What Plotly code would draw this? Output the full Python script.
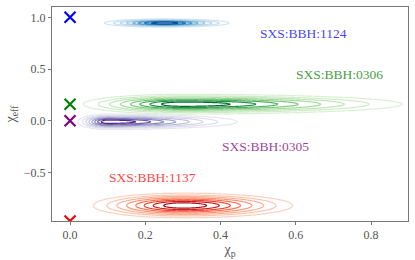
import numpy as np
import plotly.graph_objects as go
from plotly.colors import sequential, sample_colorscale

# Source labels and NR injection values (chi_p, chi_eff)
names = ["SXS:BBH:1124", "SXS:BBH:0306", "SXS:BBH:0305", "SXS:BBH:1137"]
inj_chip = [0.0, 0.0, 0.0, 0.0]
inj_chieff = [1.0, 0.16, 0.0, -0.97]
colors = ["rgb(0,0,255)", "rgb(0,128,0)", "rgb(128,0,128)", "rgb(255,0,0)"]
cmaps = [sequential.Blues, sequential.Greens, sequential.Purples, sequential.Reds]

# Posterior shape parameters
post_chip = [0.25, 0.30, 0.10, 0.30]
post_chieff = [0.945, 0.16, -0.01, -0.82]
sig_chip_left = [0.06, 0.10, 0.03, 0.09]
sig_chip_right = [0.065, 0.22, 0.13, 0.11]
sig_chieff = [0.015, 0.036, 0.028, 0.045]

# Label positions
lab_x = [0.62, 0.717, 0.52, 0.22]
lab_y = [0.845, 0.445, -0.25, -0.55]

levels = [0.03, 0.08, 0.15, 0.25, 0.38, 0.52, 0.68, 0.85]

fig = go.Figure()
xg = np.linspace(-0.05, 0.95, 240)
for i in range(4):
    yg = np.linspace(post_chieff[i] - 5 * sig_chieff[i], post_chieff[i] + 5 * sig_chieff[i], 140)
    X, Y = np.meshgrid(xg, yg)
    sx = np.where(X < post_chip[i], sig_chip_left[i], sig_chip_right[i])
    Z = np.exp(-0.5 * ((X - post_chip[i]) / sx) ** 2 - 0.5 * ((Y - post_chieff[i]) / sig_chieff[i]) ** 2)
    for lv in levels:
        c = sample_colorscale(cmaps[i], [0.15 + 0.85 * lv])[0]
        fig.add_trace(go.Contour(
            x=xg, y=yg, z=Z,
            contours=dict(coloring="lines", start=lv, end=lv, size=1),
            colorscale=[[0, c], [1, c]],
            line=dict(width=1.2), showscale=False, hoverinfo="skip",
        ))

fig.add_trace(go.Scatter(
    x=inj_chip, y=inj_chieff, mode="markers",
    marker=dict(symbol="x-thin-open", size=11, line=dict(width=2.2, color=colors), color=colors),
    showlegend=False, cliponaxis=True,
))

for i in range(4):
    fig.add_annotation(x=lab_x[i], y=lab_y[i], text=names[i], showarrow=False,
                       font=dict(family="Liberation Serif", size=13.5, color=colors[i]),
                       opacity=0.75)

axis_common = dict(showline=True, linecolor="#777", linewidth=1, mirror=True,
                   showgrid=False, zeroline=False, ticks="outside", ticklen=3,
                   tickcolor="#777", tickformat=".1f", automargin=False,
                   tickfont=dict(family="Liberation Serif", size=12, color="#555"))
fig.update_layout(
    width=415, height=260,
    margin=dict(l=52, r=7, t=7, b=39),
    plot_bgcolor="white", paper_bgcolor="white",
    showlegend=False,
    xaxis=dict(range=[-0.048, 0.898], tickvals=[0.0, 0.2, 0.4, 0.6, 0.8],
               title=dict(text="χ<sub>p</sub>", standoff=2,
                          font=dict(family="Liberation Serif", size=14, color="#555")),
               **axis_common),
    yaxis=dict(range=[-0.97, 1.1], tickvals=[-0.5, 0.0, 0.5, 1.0],
               title=dict(text="χ<sub>eff</sub>", standoff=4,
                          font=dict(family="Liberation Serif", size=14, color="#555")),
               **axis_common),
)
fig.write_html("out.html", config={"displayModeBar": False},
               post_script="document.body.style.margin='0px';")
